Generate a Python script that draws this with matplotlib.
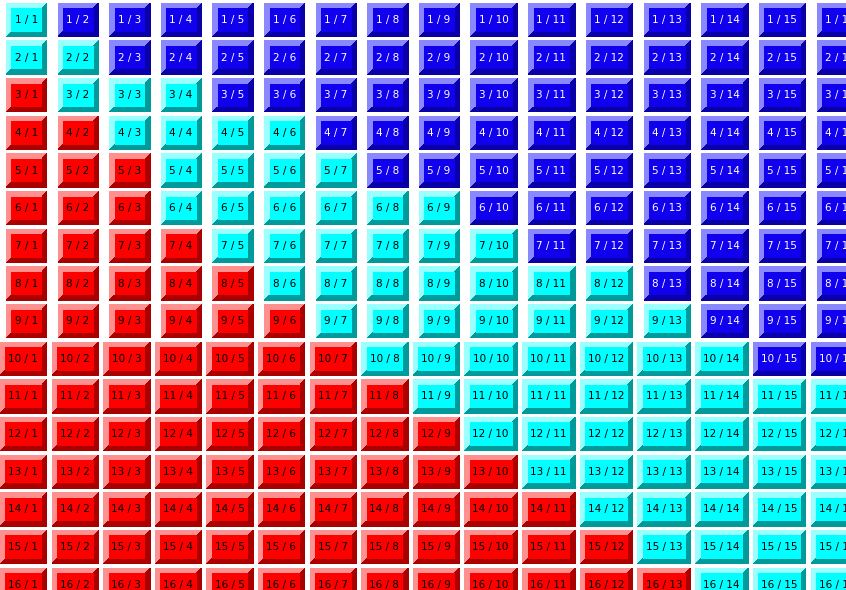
import matplotlib
matplotlib.use("Agg")
import matplotlib.pyplot as plt
from matplotlib.patches import Polygon, Rectangle

# grid of "row / col" buttons
rows = list(range(1, 17))
cols = list(range(1, 17))

# per row: last red column and last cyan column (the rest is blue)
last_red = [0, 0, 1, 2, 3, 3, 4, 5, 6, 7, 8, 9, 10, 11, 12, 13]
last_cyan = [1, 2, 4, 6, 7, 9, 10, 12, 13, 14, 16, 16, 16, 16, 16, 16]

# face, light edge, dark edge, text colour
styles = {
    "red": ("#ff0000", "#ff9090", "#aa0000", "black"),
    "cyan": ("#00ffff", "#99ffff", "#009a9a", "black"),
    "blue": ("#1000ee", "#8a88ff", "#0a00a8", "white"),
}

W, H = 846, 590
bevel = 5
gap_x = 5.0
digit_w = 6.1
base_w = 28.3
btn_h = 33.4
row_pitch = 37.65
x_start = 0.4
y_start = 3.3


def label(i, j):
    return f"{i} / {j}"


def btn_width(i, j):
    return base_w + digit_w * (len(str(i)) + len(str(j)))


def kind(ri, j):
    if j <= last_red[ri]:
        return "red"
    if j <= last_cyan[ri]:
        return "cyan"
    return "blue"


# column widths from the widest label in each column
col_w = [max(btn_width(i, j) for i in rows) for j in cols]
col_right = []
x = x_start
for w in col_w:
    x += w
    col_right.append(x)
    x += gap_x

fig = plt.figure(figsize=(W / 100, H / 100), dpi=100)
ax = fig.add_axes([0, 0, 1, 1])
ax.set_xlim(0, W)
ax.set_ylim(H, 0)
ax.axis("off")

for ri, i in enumerate(rows):
    y0 = y_start + ri * row_pitch
    y1 = y0 + btn_h
    for ci, j in enumerate(cols):
        x1 = col_right[ci]
        x0 = x1 - btn_width(i, j)
        face, light, dark, tc = styles[kind(ri, j)]
        b = bevel
        ax.add_patch(Polygon([(x0, y0), (x1, y0), (x1 - b, y0 + b), (x0 + b, y0 + b),
                              (x0 + b, y1 - b), (x0, y1)],
                             closed=True, fc=light, lw=0, antialiased=False))
        ax.add_patch(Polygon([(x1, y0), (x1, y1), (x0, y1), (x0 + b, y1 - b),
                              (x1 - b, y1 - b), (x1 - b, y0 + b)],
                             closed=True, fc=dark, lw=0, antialiased=False))
        ax.add_patch(Rectangle((x0 + b, y0 + b), x1 - x0 - 2 * b, y1 - y0 - 2 * b,
                               fc=face, lw=0, antialiased=False))
        ax.text((x0 + x1) / 2 - 0.5, (y0 + y1) / 2, label(i, j), color=tc,
                ha="center", va="center", fontsize=7.5, family="DejaVu Sans")

fig.savefig("out.png", dpi=100, facecolor="white")
